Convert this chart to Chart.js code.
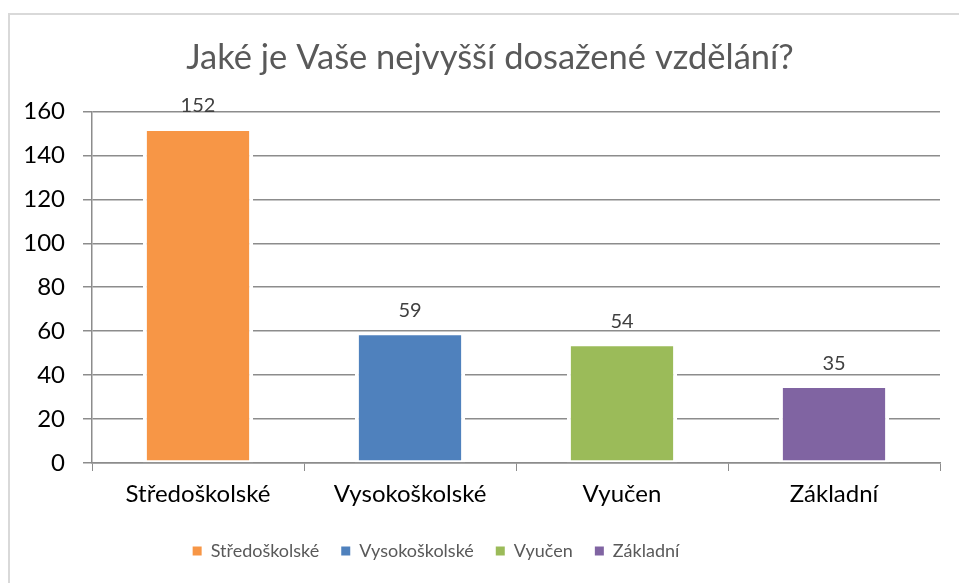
<!DOCTYPE html>
<html>
<head>
<meta charset="utf-8">
<script src="https://cdn.jsdelivr.net/npm/chart.js@4.4.1/dist/chart.umd.min.js"></script>
<style>
    html, body { margin: 0; padding: 0; background: #fff; }
    #wrap { position: relative; width: 959px; height: 583px; overflow: hidden; }
    #frame { position: absolute; left: 8px; top: 13px; width: 980px; height: 600px; border: 2px solid #d9d9d9; box-sizing: border-box; }
    #chart { position: absolute; left: 0; top: 0; }
</style>
</head>
<body>
<div id="wrap">
    <div id="frame"></div>
    <canvas id="chart" width="959" height="583"></canvas>
</div>
<script>
const chartTitle = "Jaké je Vaše nejvyšší dosažené vzdělání?";
const categories = ["Středoškolské", "Vysokoškolské", "Vyučen", "Základní"];
const counts = [152, 59, 54, 35];
const barColors = ["#f79646", "#4f81bd", "#9bbb59", "#8064a2"];
const yTicks = [0, 20, 40, 60, 80, 100, 120, 140, 160];

const FONT = "Lato, 'Open Sans', sans-serif";
const GRID = "#8c8c8c";

// value labels above each bar
const valueLabels = {
    id: "valueLabels",
    afterDatasetsDraw(chart) {
        const ctx = chart.ctx;
        const meta = chart.getDatasetMeta(0);
        ctx.save();
        ctx.font = `20px ${FONT}`;
        ctx.fillStyle = "#404040";
        ctx.textAlign = "center";
        ctx.textBaseline = "middle";
        meta.data.forEach((bar, i) => {
            ctx.fillText(String(counts[i]), bar.x, bar.y - 23);
        });
        ctx.restore();
    }
};

// the original's title and legend are not quite centred on the canvas
function nudge(box, dx) {
    if (box && !box._nudged) {
        box.left += dx;
        box.right += dx;
        box._nudged = true;
    }
}
const boxShift = {
    id: "boxShift",
    beforeDraw(chart) {
        nudge(chart.legend, -40);
        nudge(chart.titleBlock, 14);
    }
};

new Chart(document.getElementById("chart"), {
    type: "bar",
    data: {
        labels: categories,
        datasets: [{
            data: counts,
            backgroundColor: barColors,
            borderColor: "#ffffff",
            borderWidth: { left: 4, right: 4, top: 2, bottom: 2 },
            borderSkipped: false,
            categoryPercentage: 1,
            barPercentage: 0.52
        }]
    },
    options: {
        responsive: false,
        animation: false,
        layout: { padding: { left: 12, right: 19, top: 13, bottom: 13 } },
        plugins: {
            title: {
                display: true,
                text: chartTitle,
                color: "#595959",
                font: { family: FONT, size: 34.5, weight: "normal" },
                padding: { top: 24, bottom: 33 }
            },
            legend: {
                position: "bottom",
                labels: {
                    color: "#595959",
                    font: { family: FONT, size: 18 },
                    boxWidth: 9,
                    boxHeight: 9,
                    padding: 22,
                    generateLabels: () => categories.map((name, i) => ({
                        text: name,
                        fillStyle: barColors[i],
                        strokeStyle: barColors[i],
                        lineWidth: 0,
                        fontColor: "#595959",
                        index: i
                    }))
                },
                onClick: () => {}
            },
            tooltip: { enabled: false }
        },
        scales: {
            x: {
                offset: true,
                grid: { display: true, drawOnChartArea: false, color: GRID, tickLength: 8, offset: true },
                border: { color: GRID, width: 1.5 },
                ticks: { color: "#000", font: { family: FONT, size: 24 }, padding: 9 },
                afterFit: s => { s.height = 57; }
            },
            y: {
                min: 0,
                max: 160,
                afterBuildTicks: s => { s.ticks = yTicks.map(v => ({ value: v })); },
                grid: { color: GRID, lineWidth: 1.5, tickLength: 9 },
                border: { color: GRID, width: 1.5 },
                ticks: { color: "#000", font: { family: FONT, size: 24 }, padding: 18 },
                afterFit: s => { s.width = 80; }
            }
        }
    },
    plugins: [valueLabels, boxShift]
});
</script>
</body>
</html>
